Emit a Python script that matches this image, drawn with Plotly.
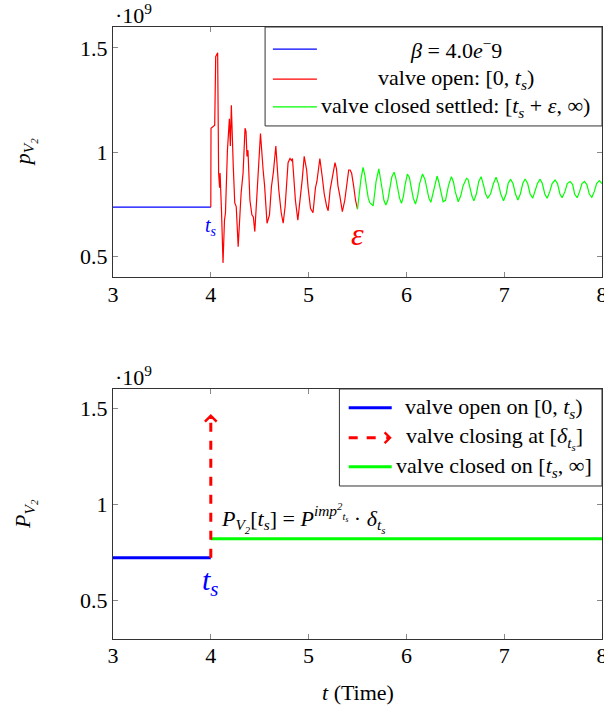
import plotly.graph_objects as go

# ---------------- data (pressure values in units of 1e9) ----------------
# top panel: simulated pressure
open_t = [3.0, 4.0]
open_p = [0.737, 0.737]

red_t = [4.0, 4.002, 4.04, 4.05, 4.07, 4.08, 4.09, 4.095, 4.11, 4.125, 4.14, 4.15,
         4.17, 4.185, 4.19, 4.20, 4.21, 4.23, 4.245, 4.26, 4.28, 4.30, 4.31, 4.33,
         4.35, 4.36, 4.37, 4.38, 4.40, 4.42, 4.435, 4.45, 4.47, 4.484, 4.508, 4.535,
         4.55, 4.575, 4.60, 4.62, 4.64, 4.665, 4.68, 4.695, 4.72, 4.74, 4.76, 4.775,
         4.79, 4.81, 4.825, 4.835, 4.85, 4.865, 4.89, 4.92, 4.935, 4.955, 4.98, 4.995,
         5.02, 5.045, 5.07, 5.085, 5.115, 5.14, 5.16, 5.185, 5.20, 5.22, 5.24, 5.27,
         5.285, 5.30, 5.32, 5.345, 5.37, 5.39, 5.41, 5.425, 5.44, 5.46, 5.48, 5.50]
red_p = [0.737, 1.115, 1.13, 1.458, 1.477, 0.90, 0.83, 0.90, 0.71, 0.47, 0.675, 0.71,
         1.01, 1.155, 1.16, 1.03, 1.225, 0.93, 0.757, 0.74, 0.548, 0.72, 0.805, 0.90,
         1.115, 1.10, 0.98, 1.01, 0.77, 0.70, 0.69, 0.62, 0.80, 0.88, 1.09, 0.915,
         0.84, 0.66, 0.70, 0.835, 0.905, 1.03, 0.90, 0.82, 0.71, 0.66, 0.74, 0.85,
         0.95, 0.97, 0.96, 0.97, 0.85, 0.77, 0.675, 0.79, 0.87, 0.98, 0.915, 0.83,
         0.73, 0.71, 0.83, 0.86, 0.97, 0.88, 0.80, 0.74, 0.72, 0.82, 0.88, 0.95,
         0.92, 0.84, 0.79, 0.715, 0.77, 0.85, 0.915, 0.915, 0.90, 0.84, 0.77, 0.727]

green_t = [5.50, 5.515, 5.535, 5.557, 5.575, 5.59, 5.61, 5.626, 5.66, 5.675, 5.69, 5.718,
           5.735, 5.75, 5.77, 5.79, 5.81, 5.83, 5.85, 5.874, 5.89, 5.91, 5.93, 5.95,
           5.97, 5.985, 6.01, 6.03, 6.05, 6.07, 6.093, 6.115, 6.135, 6.165, 6.19, 6.21,
           6.23, 6.25, 6.27, 6.29, 6.314, 6.33, 6.35, 6.375, 6.40, 6.43, 6.46, 6.48,
           6.50, 6.53, 6.555, 6.58, 6.615, 6.63, 6.65, 6.67, 6.69, 6.715, 6.74, 6.764,
           6.79, 6.81, 6.832, 6.86, 6.89, 6.917, 6.94, 6.965, 6.993, 7.02, 7.04, 7.064,
           7.09, 7.115, 7.14, 7.165, 7.19, 7.214, 7.24, 7.265, 7.292, 7.315, 7.34, 7.367,
           7.39, 7.415, 7.439, 7.465, 7.49, 7.52, 7.545, 7.57, 7.592, 7.62, 7.645, 7.674,
           7.70, 7.72, 7.746, 7.77, 7.795, 7.82, 7.845, 7.87, 7.896, 7.92, 7.945, 7.974, 8.0]
green_p = [0.727, 0.80, 0.87, 0.928, 0.89, 0.84, 0.78, 0.758, 0.743, 0.80, 0.86, 0.92,
           0.88, 0.83, 0.77, 0.747, 0.77, 0.83, 0.88, 0.904, 0.88, 0.83, 0.78, 0.755,
           0.79, 0.84, 0.895, 0.88, 0.83, 0.78, 0.752, 0.79, 0.85, 0.896, 0.87, 0.82,
           0.78, 0.76, 0.80, 0.85, 0.886, 0.86, 0.81, 0.763, 0.77, 0.84, 0.883, 0.86,
           0.81, 0.763, 0.79, 0.84, 0.875, 0.87, 0.83, 0.79, 0.767, 0.80, 0.86, 0.883,
           0.84, 0.80, 0.78, 0.80, 0.85, 0.88, 0.85, 0.80, 0.768, 0.80, 0.85, 0.871,
           0.85, 0.80, 0.771, 0.80, 0.85, 0.872, 0.85, 0.80, 0.78, 0.81, 0.85, 0.871,
           0.85, 0.80, 0.78, 0.81, 0.85, 0.867, 0.85, 0.80, 0.782, 0.81, 0.85, 0.86,
           0.845, 0.80, 0.782, 0.81, 0.85, 0.86, 0.845, 0.80, 0.784, 0.81, 0.85, 0.864, 0.85]

# bottom panel: idealised model
ideal_open_t = [3.0, 4.0]
ideal_open_p = [0.722, 0.722]
closing_t = [4.0, 4.0]
closing_p = [0.722, 1.45]
arrow_tip_p = 1.47
closed_t = [4.0, 8.0]
closed_p = [0.821, 0.821]

x_ticks = [3, 4, 5, 6, 7, 8]
y_ticks = [0.5, 1.0, 1.5]
y_tick_text = ["0.5", "1", "1.5"]

top_legend = ["<i>β</i> = 4.0<i>e</i><sup>−</sup>9",
              "valve open: [0, <i>t<sub>s</sub></i>)",
              "valve closed settled: [<i>t<sub>s</sub></i> + <i>ε</i>, ∞)"]
bottom_legend = ["valve open on [0, <i>t<sub>s</sub></i>)",
                 "valve closing at [<i>δ<sub>t<sub>s</sub></sub></i>]",
                 "valve closed on [<i>t<sub>s</sub></i>, ∞]"]

BLUE, RED, GREEN = "#0000ff", "#ff0000", "#00ff00"
FONT = "Liberation Serif, Times New Roman, serif"
FS = 22

fig = go.Figure()
fig.add_trace(go.Scatter(x=open_t, y=open_p, mode="lines", line=dict(color=BLUE, width=1.2),
                         xaxis="x", yaxis="y", showlegend=False))
fig.add_trace(go.Scatter(x=red_t, y=red_p, mode="lines", line=dict(color=RED, width=1.2),
                         xaxis="x", yaxis="y", showlegend=False))
fig.add_trace(go.Scatter(x=green_t, y=green_p, mode="lines", line=dict(color=GREEN, width=1.2),
                         xaxis="x", yaxis="y", showlegend=False))

fig.add_trace(go.Scatter(x=ideal_open_t, y=ideal_open_p, mode="lines", line=dict(color=BLUE, width=3),
                         xaxis="x2", yaxis="y2", showlegend=False))
fig.add_trace(go.Scatter(x=closed_t, y=closed_p, mode="lines", line=dict(color=GREEN, width=3),
                         xaxis="x2", yaxis="y2", showlegend=False))
fig.add_trace(go.Scatter(x=closing_t, y=closing_p, mode="lines", line=dict(color=RED, width=3, dash="dash"),
                         xaxis="x2", yaxis="y2", showlegend=False))

axis_common = dict(showline=True, linecolor="#333", linewidth=1, mirror="ticks", ticks="inside",
                   ticklen=5, tickcolor="#888", tickwidth=1, showgrid=False, zeroline=False,
                   automargin=False, ticklabeloverflow="allow",
                   tickfont=dict(family=FONT, size=FS, color="black"))

fig.update_layout(
    width=604, height=712, margin=dict(l=113, r=2, t=27, b=73, autoexpand=False),
    paper_bgcolor="white", plot_bgcolor="white", showlegend=False,
    xaxis=dict(domain=[0, 1], anchor="y", range=[3, 8], tickvals=x_ticks,
               ticklabelstandoff=-3, **axis_common),
    yaxis=dict(domain=[0.5907, 1], anchor="x", range=[0.4, 1.6], tickvals=y_ticks,
               ticktext=y_tick_text, **axis_common),
    xaxis2=dict(domain=[0, 1], anchor="y2", range=[3, 8], tickvals=x_ticks,
                ticklabelstandoff=-3, **axis_common),
    yaxis2=dict(domain=[0, 0.4085], anchor="x2", range=[0.3, 1.6], tickvals=y_ticks,
                ticktext=y_tick_text, **axis_common),
)

shapes = []
annotations = []

# ---- legend boxes (manual, to centre text as in the original) ----
def legend(xr, yr, box, rows_y, sample_x, text_x, texts, styles):
    shapes.append(dict(type="rect", xref=xr, yref=yr, x0=box[0], x1=box[1], y0=box[2], y1=box[3],
                       line=dict(color="#333", width=1), fillcolor="white", layer="above"))
    for ry, txt, st in zip(rows_y, texts, styles):
        color, width, dash = st
        x1 = sample_x[1] if dash == "solid" else sample_x[1] - 0.016
        shapes.append(dict(type="line", xref=xr, yref=yr, x0=sample_x[0], x1=x1, y0=ry, y1=ry,
                           line=dict(color=color, width=width, dash=dash), layer="above"))
        if dash != "solid":
            annotations.append(dict(xref=xr, yref=yr, x=sample_x[1], y=ry, text=" ", showarrow=True,
                                    ax=-6, ay=0, arrowhead=4, arrowsize=0.7, arrowwidth=width,
                                    arrowcolor=color, standoff=0, startstandoff=0,
                                    font=dict(size=1), borderpad=0))
        annotations.append(dict(xref=xr, yref=yr, x=text_x, y=ry, text=txt, showarrow=False,
                                xanchor="center", yanchor="middle",
                                font=dict(family=FONT, size=FS, color="black")))

legend("x domain", "y domain", (0.311, 1.0, 0.605, 1.0), [0.912, 0.792, 0.681],
       (0.327, 0.417), 0.701, top_legend,
       [(BLUE, 1.2, "solid"), (RED, 1.2, "solid"), (GREEN, 1.2, "solid")])
legend("x2 domain", "y2 domain", (0.463, 1.0, 0.612, 1.0), [0.925, 0.805, 0.689],
       (0.482, 0.570), 0.780, bottom_legend,
       [(BLUE, 3, "solid"), (RED, 3, "dash"), (GREEN, 3, "solid")])

# arrow head on the closing impulse
annotations.append(dict(xref="x2", yref="y2", x=closing_t[1], y=arrow_tip_p, text=" ", showarrow=True,
                        ax=0, ay=6, arrowhead=4, arrowsize=0.75, arrowwidth=3, arrowcolor=RED,
                        standoff=0, startstandoff=0, font=dict(size=1), borderpad=0))

# ---- text labels ----
annotations += [
    dict(xref="x", yref="y", x=4.0, y=0.642, text="<i>t<sub>s</sub></i>", showarrow=False,
         font=dict(family=FONT, size=20, color=BLUE)),
    dict(xref="x", yref="y", x=5.50, y=0.608, text="<i>ε</i>", showarrow=False,
         font=dict(family=FONT, size=32, color=RED)),
    dict(xref="x2", yref="y2", x=4.0, y=0.594, text="<i>t<sub>s</sub></i>", showarrow=False,
         font=dict(family=FONT, size=30, color=BLUE)),
    dict(xref="x2", yref="y2", x=4.08, y=0.927, xanchor="left", showarrow=False,
         text="<i>P<sub>V<sub>2</sub></sub></i>[<i>t<sub>s</sub></i>] = <i>P<sup>imp<sup>2</sup><sub>t<sub>s</sub></sub></sup></i> · <i>δ<sub>t<sub>s</sub></sub></i>",
         font=dict(family=FONT, size=FS, color="black")),
    # exponent markers
    dict(xref="x domain", yref="y domain", x=0.0, y=1.0, xanchor="left", yanchor="middle", yshift=13,
         text="·10<sup>9</sup>", showarrow=False, font=dict(family=FONT, size=FS, color="black")),
    dict(xref="x2 domain", yref="y2 domain", x=0.0, y=1.0, xanchor="left", yanchor="middle", yshift=13,
         text="·10<sup>9</sup>", showarrow=False, font=dict(family=FONT, size=FS, color="black")),
    # y-axis titles
    dict(xref="paper", yref="y domain", x=-0.18, y=0.5, xanchor="center", yanchor="middle",
         textangle=-90, showarrow=False,
         text="<i>p<sub>V<sub>2</sub></sub></i>", font=dict(family=FONT, size=FS, color="black")),
    dict(xref="paper", yref="y2 domain", x=-0.18, y=0.5, xanchor="center", yanchor="middle",
         textangle=-90, showarrow=False,
         text="<i>P<sub>V<sub>2</sub></sub></i>", font=dict(family=FONT, size=FS, color="black")),
    # x-axis title
    dict(xref="x2 domain", yref="paper", x=0.5, y=0, yshift=-53, yanchor="middle", showarrow=False,
         text="<i>t</i> (Time)", font=dict(family=FONT, size=FS, color="black")),
]

fig.update_layout(shapes=shapes, annotations=annotations)
fig.write_html("out.html", config={"displayModeBar": False},
               post_script="document.body.style.margin='0px';")
